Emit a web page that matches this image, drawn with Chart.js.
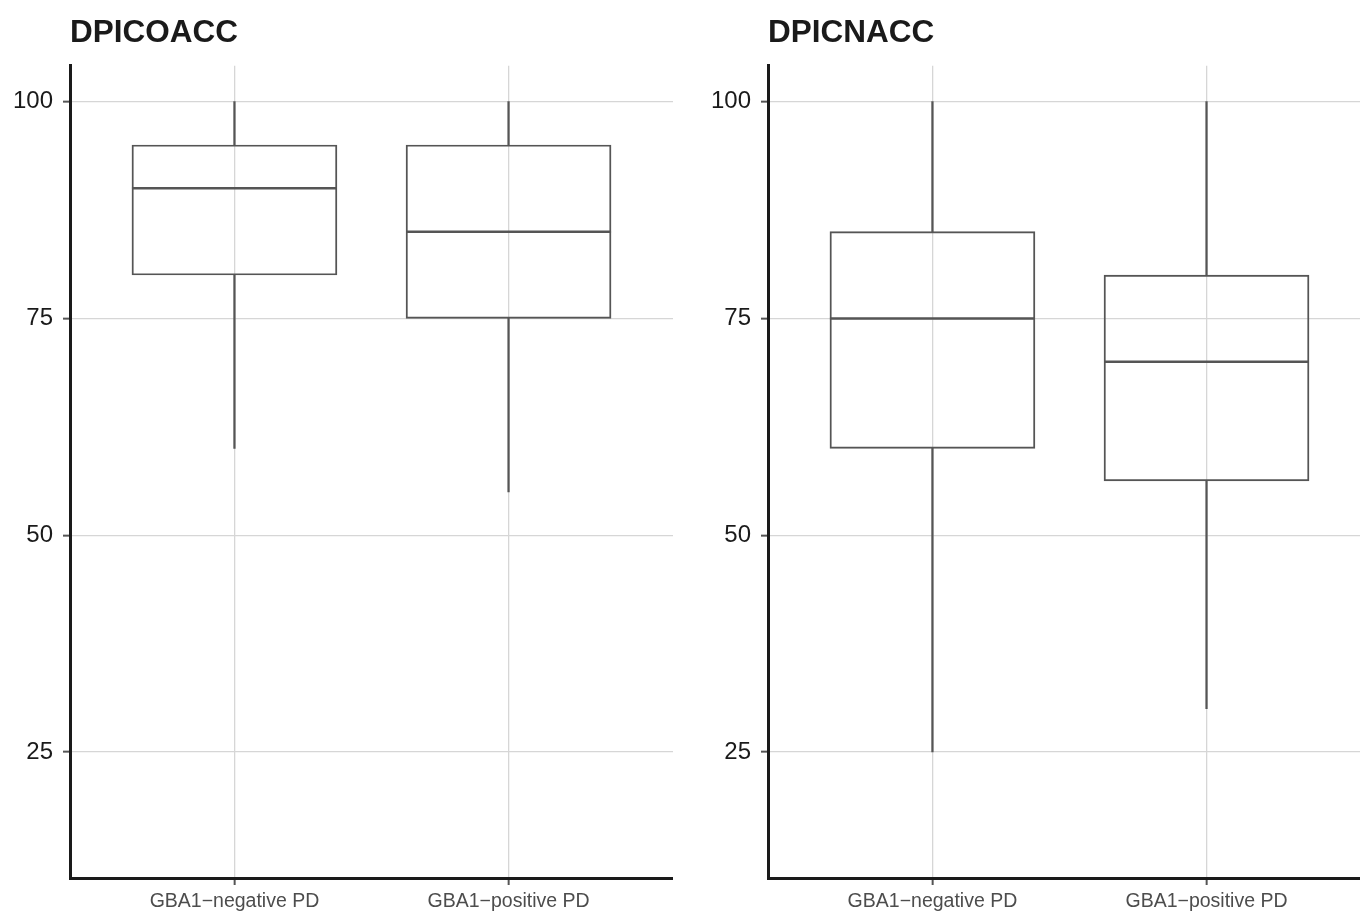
<!DOCTYPE html>
<html>
<head>
<meta charset="utf-8">
<script src="https://cdn.jsdelivr.net/npm/chart.js@4.4.1/dist/chart.umd.min.js"></script>
<style>
  html, body { margin: 0; padding: 0; background: #fff; overflow: hidden; }
  #wrap { position: relative; width: 1360px; height: 911px; }
  canvas { position: absolute; top: 0; }
</style>
</head>
<body>
<div id="wrap">
  <canvas id="left-chart" width="673" height="911" style="left:0px"></canvas>
  <canvas id="right-chart" width="662" height="911" style="left:698px"></canvas>
</div>
<script>
'use strict';

// カテゴリとy軸目盛
const categories = ['GBA1\u2212negative PD', 'GBA1\u2212positive PD'];
const yTicks = [25, 50, 75, 100];

// DPICOACC の箱ひげ値
const coaccMin = [60, 55];
const coaccQ1 = [80, 75];
const coaccMedian = [90, 85];
const coaccQ3 = [95, 95];
const coaccMax = [100, 100];

// DPICNACC の箱ひげ値
const cnaccMin = [25, 30];
const cnaccQ1 = [60, 56.25];
const cnaccMedian = [75, 70];
const cnaccQ3 = [85, 80];
const cnaccMax = [100, 100];

const lineColor = '#555555';

// 中央値の線を描くプラグイン
const medianPlugin = {
  id: 'median',
  afterDatasetsDraw(chart, args, opts) {
    const meta = chart.getDatasetMeta(2); // 箱のデータセット
    const yScale = chart.scales.y;
    const c = chart.ctx;
    c.save();
    c.strokeStyle = lineColor;
    c.lineWidth = 2.5;
    meta.data.forEach((bar, i) => {
      const y = yScale.getPixelForValue(opts.values[i]);
      c.beginPath();
      c.moveTo(bar.x - bar.width / 2, y);
      c.lineTo(bar.x + bar.width / 2, y);
      c.stroke();
    });
    c.restore();
  }
};

function makeChart(id, title, mins, q1s, medians, q3s, maxs, xMax) {
  const ctx = document.getElementById(id).getContext('2d');
  const pts = (lo, hi) => categories.map((c, i) => ({ x: i + 1, y: [lo[i], hi[i]] }));

  return new Chart(ctx, {
    type: 'bar',
    data: {
      datasets: [
        { data: pts(mins, q1s), backgroundColor: lineColor, borderWidth: 0, barThickness: 1.6, grouped: false },
        { data: pts(q3s, maxs), backgroundColor: lineColor, borderWidth: 0, barThickness: 1.6, grouped: false },
        { data: pts(q1s, q3s), backgroundColor: 'rgba(0,0,0,0)', borderColor: lineColor, borderWidth: 1.3,
          borderSkipped: false, barThickness: 205, grouped: false },
      ]
    },
    options: {
      responsive: false,
      animation: false,
      layout: { padding: 0 },
      scales: {
        x: {
          type: 'linear',
          min: 0.4,
          max: xMax,
          offset: false,
          afterBuildTicks: (s) => { s.ticks = categories.map((c, i) => ({ value: i + 1 })); },
          afterFit: (s) => { s.height = 33; },
          ticks: {
            callback: (v) => categories[v - 1],
            color: '#4d4d4d',
            font: { family: 'Liberation Sans', size: 19.5 },
            padding: 5,
            maxRotation: 0,
          },
          grid: { offset: false, color: '#d6d6d6', lineWidth: 1.3, tickLength: 7, tickColor: lineColor, tickWidth: 2 },
          border: { color: '#1a1a1a', width: 3 },
        },
        y: {
          type: 'linear',
          min: 10.46,
          max: 104.13,
          afterBuildTicks: (s) => { s.ticks = yTicks.map(v => ({ value: v })); },
          afterFit: (s) => { s.width = 70; },
          ticks: {
            color: '#1a1a1a',
            font: { family: 'Liberation Sans', size: 24 },
            padding: 10,
          },
          grid: { color: '#d6d6d6', lineWidth: 1.3, tickLength: 7, tickColor: lineColor, tickWidth: 2 },
          border: { color: '#1a1a1a', width: 3 },
        }
      },
      plugins: {
        legend: { display: false },
        tooltip: { enabled: false },
        title: {
          display: true,
          text: title,
          align: 'start',
          fullSize: false,
          color: '#1a1a1a',
          font: { family: 'Liberation Sans', size: 31.5, weight: 'bold' },
          padding: { top: 14, bottom: 14 },
        },
        median: { values: medians },
      },
    },
    plugins: [medianPlugin],
  });
}

makeChart('left-chart', 'DPICOACC', coaccMin, coaccQ1, coaccMedian, coaccQ3, coaccMax, 2.6);
makeChart('right-chart', 'DPICNACC', cnaccMin, cnaccQ1, cnaccMedian, cnaccQ3, cnaccMax, 2.56);
</script>
</body>
</html>
